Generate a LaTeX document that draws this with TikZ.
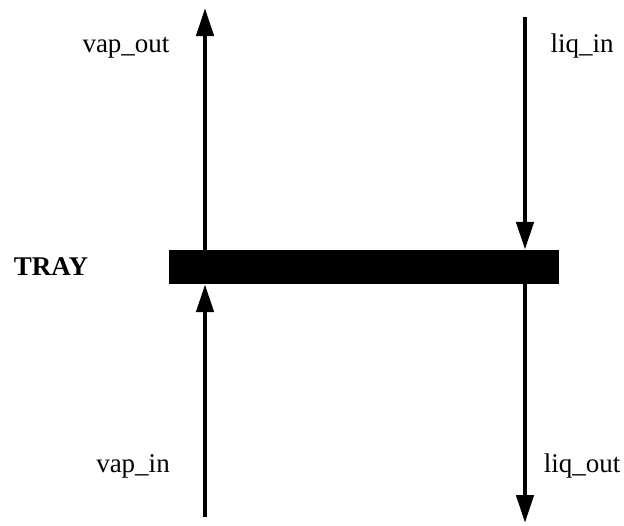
\documentclass[tikz,border=0pt]{standalone}
\usepackage{fontspec}
\setmainfont{Liberation Serif}
\usetikzlibrary{arrows.meta}
\begin{document}
\begin{tikzpicture}[x=1pt,y=-1pt,
  lbl/.style={font=\fontsize{27}{32}\selectfont, anchor=base, inner sep=0pt},
  flow/.style={line width=4.5pt, -{Triangle[length=28pt,width=17pt]}},
  traybar/.style={fill=black, draw=none, minimum width=390pt, minimum height=34pt, inner sep=0pt}]
\useasboundingbox (0,0) rectangle (624,525);
\node[traybar] (tray) at (364,267) {};
\node[lbl, font=\fontsize{27}{32}\selectfont\bfseries] (traylbl) at (51,275) {TRAY};
\node[lbl] (vapout) at (126,52) {vap\_out};
\node[lbl] (liqin) at (582,52) {liq\_in};
\node[lbl] (vapin) at (133,472) {vap\_in};
\node[lbl] (liqout) at (582,472) {liq\_out};
\coordinate (vo) at (205,8);
\coordinate (vi) at (205,517);
\coordinate (li) at (525,17);
\coordinate (lo) at (525,523);
\draw[flow] ([yshift=-3pt]tray.north -| vo) -- (vo);
\draw[flow] (vi) -- (tray.south -| vi);
\draw[flow] (li) -- (tray.north -| li);
\draw[flow] ([yshift=2pt]tray.south -| lo) -- (lo);
\end{tikzpicture}
\end{document}
